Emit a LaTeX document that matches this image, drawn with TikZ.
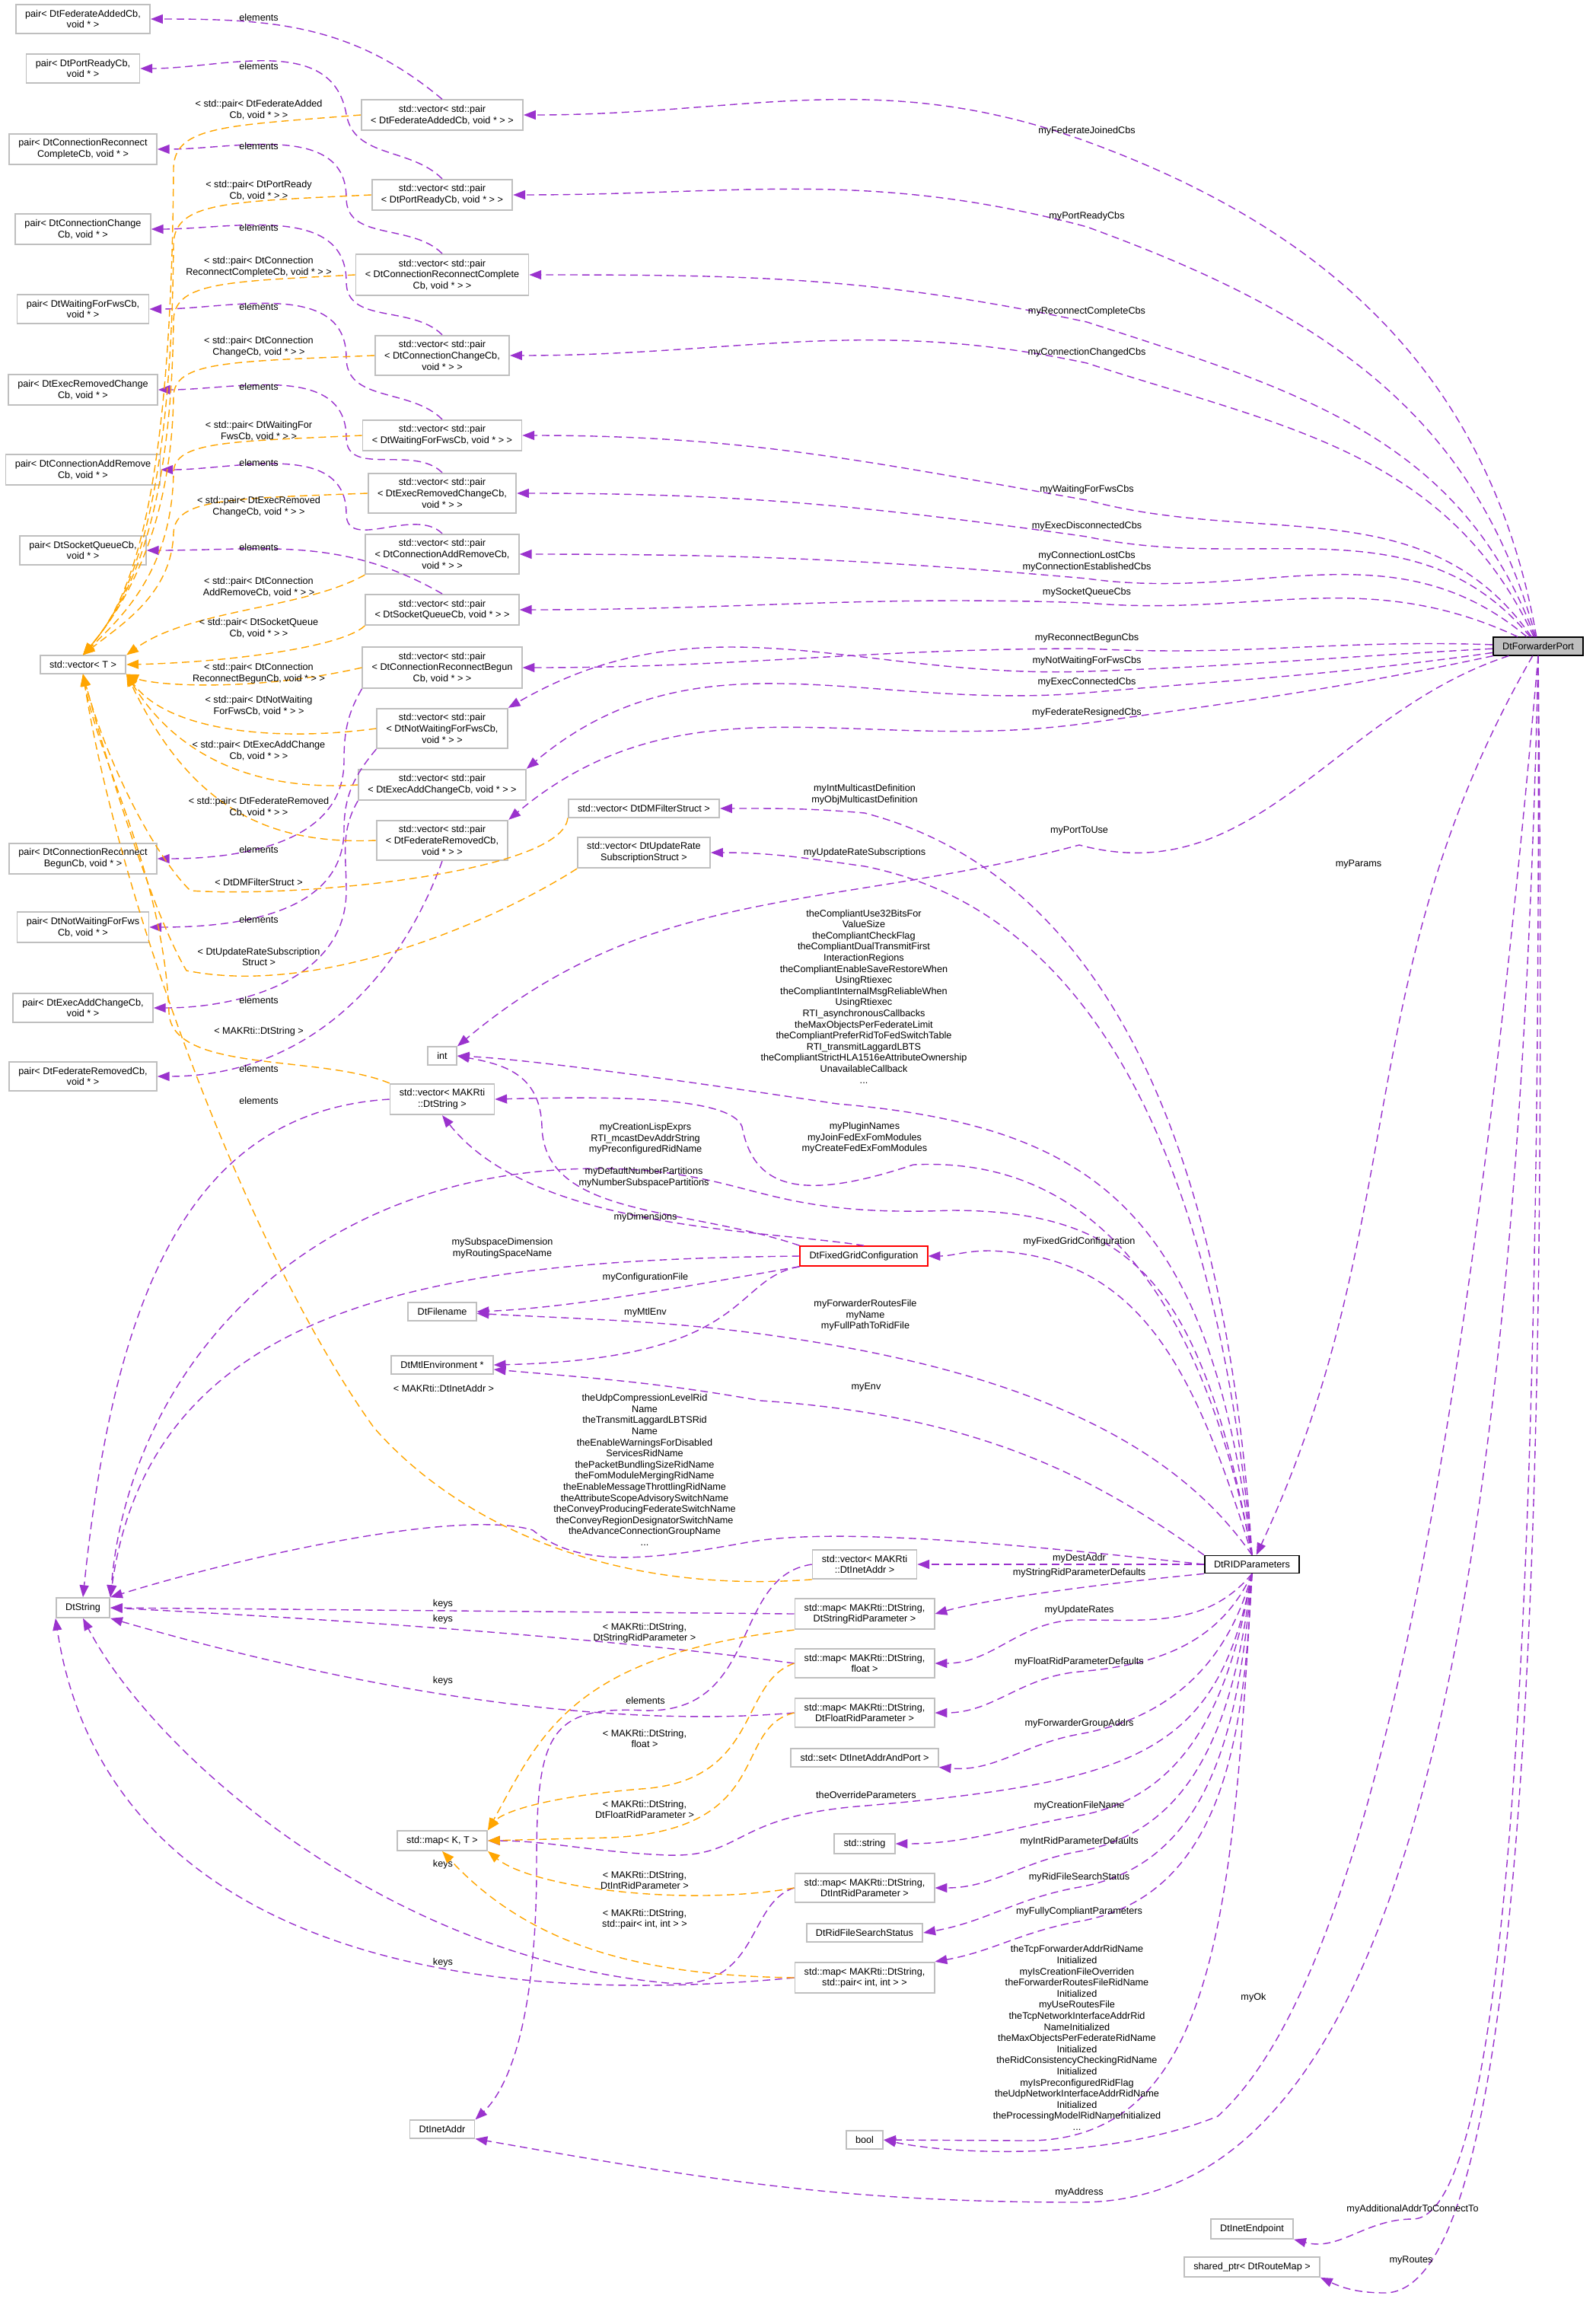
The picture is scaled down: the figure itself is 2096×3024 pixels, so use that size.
\documentclass[tikz,border=0pt]{standalone}
\usepackage{fontspec}
\setmainfont{Liberation Sans}
\usetikzlibrary{arrows.meta}
\definecolor{purp}{HTML}{9A32CD}
\definecolor{orng}{HTML}{FFA500}
\definecolor{bgray}{HTML}{BFBFBF}
\newcommand\lblf{\fontsize{3.6}{4.15}\selectfont}
\begin{document}
\begin{tikzpicture}[x=0.01cm,y=-0.01cm,
  box/.style={draw=bgray,fill=white,line width=0.5pt,inner xsep=3.5pt,inner ysep=2pt,align=center,font=\lblf},
  lbl/.style={font=\lblf,align=center,inner sep=0pt},
  pe/.style={draw=purp,line width=0.4pt,dash pattern=on 2.8pt off 1.7pt,-{Triangle[length=4.5pt,width=3.4pt]},fill=none},
  oe/.style={draw=orng,line width=0.4pt,dash pattern=on 2.8pt off 1.7pt,-{Triangle[length=4.5pt,width=3.4pt]},fill=none}]
\useasboundingbox (0,0) rectangle (2096,3024);
% left column
\node[box] (pFA) at (109,25) {pair< DtFederateAddedCb,\\ void * >};
\node[box] (pPR) at (109,90) {pair< DtPortReadyCb,\\ void * >};
\node[box] (pCRC) at (109,196) {pair< DtConnectionReconnect\\ CompleteCb, void * >};
\node[box] (pCC) at (109,301) {pair< DtConnectionChange\\ Cb, void * >};
\node[box] (pWF) at (109,406) {pair< DtWaitingForFwsCb,\\ void * >};
\node[box] (pERC) at (109,512) {pair< DtExecRemovedChange\\ Cb, void * >};
\node[box] (pCAR) at (109,617) {pair< DtConnectionAddRemove\\ Cb, void * >};
\node[box] (pSQ) at (109,723) {pair< DtSocketQueueCb,\\ void * >};
\node[box] (vecT) at (109,873) {std::vector< T >};
\node[box] (pCRB) at (109,1128) {pair< DtConnectionReconnect\\ BegunCb, void * >};
\node[box] (pNWF) at (109,1218) {pair< DtNotWaitingForFws\\ Cb, void * >};
\node[box] (pEAC) at (109,1324) {pair< DtExecAddChangeCb,\\ void * >};
\node[box] (pFR) at (109,1414) {pair< DtFederateRemovedCb,\\ void * >};
\node[box] (DtString) at (109,2112) {DtString};
% vectors
\node[box] (vFA) at (581,151) {std::vector< std::pair\\ < DtFederateAddedCb, void * > >};
\node[box] (vPR) at (581,256) {std::vector< std::pair\\ < DtPortReadyCb, void * > >};
\node[box] (vCRC) at (581,361) {std::vector< std::pair\\ < DtConnectionReconnectComplete\\ Cb, void * > >};
\node[box] (vCC) at (581,467) {std::vector< std::pair\\ < DtConnectionChangeCb,\\ void * > >};
\node[box] (vWF) at (581,572) {std::vector< std::pair\\ < DtWaitingForFwsCb, void * > >};
\node[box] (vERC) at (581,648) {std::vector< std::pair\\ < DtExecRemovedChangeCb,\\ void * > >};
\node[box] (vCAR) at (581,728) {std::vector< std::pair\\ < DtConnectionAddRemoveCb,\\ void * > >};
\node[box] (vSQ) at (581,801) {std::vector< std::pair\\ < DtSocketQueueCb, void * > >};
\node[box] (vCRB) at (581,877) {std::vector< std::pair\\ < DtConnectionReconnectBegun\\ Cb, void * > >};
\node[box] (vNWF) at (581,957) {std::vector< std::pair\\ < DtNotWaitingForFwsCb,\\ void * > >};
\node[box] (vEAC) at (581,1031) {std::vector< std::pair\\ < DtExecAddChangeCb, void * > >};
\node[box] (vFR) at (581,1104) {std::vector< std::pair\\ < DtFederateRemovedCb,\\ void * > >};
\node[box] (vDMF) at (846,1062) {std::vector< DtDMFilterStruct >};
\node[box] (vURS) at (846,1120) {std::vector< DtUpdateRate\\ SubscriptionStruct >};
\node[box] (int) at (581,1387) {int};
\node[box] (vStr) at (581,1444) {std::vector< MAKRti\\ ::DtString >};
\node[box,draw=red] (FG) at (1135,1650) {DtFixedGridConfiguration};
\node[box] (DtFilename) at (581,1723) {DtFilename};
\node[box] (DtMtl) at (581,1793) {DtMtlEnvironment *};
\node[box] (vIA) at (1136,2055) {std::vector< MAKRti\\ ::DtInetAddr >};
\node[box] (mStrRP) at (1136,2120) {std::map< MAKRti::DtString,\\ DtStringRidParameter >};
\node[box] (mFloat) at (1136,2185) {std::map< MAKRti::DtString,\\ float >};
\node[box] (mFloatRP) at (1136,2250) {std::map< MAKRti::DtString,\\ DtFloatRidParameter >};
\node[box] (setIAP) at (1136,2309) {std::set< DtInetAddrAndPort >};
\node[box] (mapKT) at (581,2418) {std::map< K, T >};
\node[box] (stdstring) at (1136,2422) {std::string};
\node[box] (mIntRP) at (1136,2480) {std::map< MAKRti::DtString,\\ DtIntRidParameter >};
\node[box] (rfss) at (1136,2539) {DtRidFileSearchStatus};
\node[box] (mPair) at (1136,2598) {std::map< MAKRti::DtString,\\ std::pair< int, int > >};
\node[box] (bool) at (1136,2811) {bool};
\node[box] (DtInetAddr) at (581,2797) {DtInetAddr};
\node[box,draw=black] (RID) at (1645,2055) {DtRIDParameters};
\node[box,draw=black,fill=bgray] (FP) at (2021,849) {DtForwarderPort};
\node[box] (DtInetEndpoint) at (1645,2928) {DtInetEndpoint};
\node[box] (sptr) at (1645,2978) {shared\_ptr< DtRouteMap >};

% ---- FP edges
\draw[pe] (FP) to[out=100,in=-20] (1428,186) to[out=160,in=0] (vFA);
\draw[pe] (FP) to[out=105,in=-20] (1428,298) to[out=165,in=0] (vPR);
\draw[pe] (FP) to[out=110,in=-18] (1428,423) to[out=168,in=0] (vCRC);
\draw[pe] (FP) to[out=115,in=-18] (1428,477) to[out=168,in=0] (vCC);
\draw[pe] (FP) to[out=125,in=-15] (1428,657) to[out=170,in=0] (vWF);
\draw[pe] (FP) to[out=130,in=-12] (1428,705) to[out=172,in=0] (vERC);
\draw[pe] (FP) to[out=140,in=-8] (1428,760) to[out=175,in=0] (vCAR);
\draw[pe] (FP) to[out=155,in=-5] (1428,792) to[out=178,in=0] (vSQ);
\draw[pe] (FP) to[out=178,in=-3] (1428,852) to[out=180,in=0] (vCRB);
\draw[pe] (FP) to[out=183,in=2] (1428,882) to[out=182,in=30] (vNWF.north east);
\draw[pe] (FP) to[out=188,in=5] (1428,910) to[out=185,in=40] (vEAC.north east);
\draw[pe] (FP) to[out=192,in=8] (1428,950) to[out=188,in=40] (vFR.north east);
\draw[pe] (FP) to[out=198,in=-15] (1418,1110) to[out=195,in=40] (int.north east);
\draw[pe] (FP) to[out=-120,in=65] (RID);
\draw[pe] (FP.south) .. controls (1990,2300) and (1800,2893) .. (1418,2893) to[out=180,in=-10] (DtInetAddr.south east);
\draw[pe] (FP.south) .. controls (1930,1900) and (1800,2600) .. (1600,2780) .. controls (1450,2840) and (1250,2830) .. (bool.east);
\draw[pe] (FP.south) .. controls (2025,2000) and (1990,2915) .. (1856,2915) to[out=180,in=-15] (DtInetEndpoint.south east);
\draw[pe] (FP.south) .. controls (2035,2100) and (2000,3010) .. (1820,3012) to[out=180,in=-25] (sptr.south east);
% FP labels
\node[lbl] (l1) at (1428,172) {myFederateJoinedCbs};
\node[lbl] (l2) at (1428,284) {myPortReadyCbs};
\node[lbl] (l3) at (1428,409) {myReconnectCompleteCbs};
\node[lbl] (l4) at (1428,463) {myConnectionChangedCbs};
\node[lbl] (l5) at (1428,643) {myWaitingForFwsCbs};
\node[lbl] (l6) at (1428,691) {myExecDisconnectedCbs};
\node[lbl] (l7) at (1428,738) {myConnectionLostCbs\\myConnectionEstablishedCbs};
\node[lbl] (l8) at (1428,778) {mySocketQueueCbs};
\node[lbl] (l9) at (1428,838) {myReconnectBegunCbs};
\node[lbl] (l10) at (1428,868) {myNotWaitingForFwsCbs};
\node[lbl] (l11) at (1428,896) {myExecConnectedCbs};
\node[lbl] (l12) at (1428,936) {myFederateResignedCbs};
\node[lbl] (l13) at (1418,1091) {myPortToUse};
\node[lbl] (l14) at (1785,1135) {myParams};
\node[lbl] (l15) at (1418,2880) {myAddress};
\node[lbl] (l16) at (1647,2624) {myOk};
\node[lbl] (l17) at (1856,2902) {myAdditionalAddrToConnectTo};
\node[lbl] (l18) at (1854,2969) {myRoutes};

% ---- RID edges
\draw[pe] (RID.north) .. controls (1610,1500) and (1450,1150) .. (1136,1068) to[out=175,in=0] (vDMF);
\draw[pe] (RID.north) .. controls (1600,1550) and (1450,1200) .. (1136,1138) to[out=172,in=0] (vURS);
\draw[pe] (RID.north) .. controls (1590,1600) and (1450,1480) .. (1100,1450) .. controls (900,1420) and (700,1392) .. (int.east);
\draw[pe] (RID.north) .. controls (1570,1650) and (1400,1520) .. (1200,1530) .. controls (1050,1580) and (990,1560) .. (975,1480) .. controls (960,1440) and (800,1440) .. (vStr.east);
\draw[pe] (RID.north) .. controls (1580,1700) and (1500,1590) .. (1250,1590) .. controls (1000,1600) and (990,1540) .. (800,1535) .. controls (400,1530) and (170,1800) .. (DtString.north east);
\draw[pe] (RID.north) .. controls (1570,1800) and (1500,1650) .. (1300,1643) to[out=180,in=0] (FG);
\draw[pe] (RID.north) .. controls (1580,1950) and (1450,1830) .. (1100,1768) to[out=170,in=-3] (DtFilename);
\draw[pe] (RID.north west) .. controls (1450,1950) and (1300,1860) .. (1000,1840) to[out=170,in=-5] (DtMtl);
\draw[pe] (RID.west) .. controls (1350,2030) and (1100,2005) .. (982,2026) .. controls (850,2050) and (760,2060) .. (700,2010) .. controls (600,1980) and (300,2050) .. (DtString.north east);
\draw[pe] (RID) -- (vIA);
\draw[pe] (RID.south west) .. controls (1450,2080) and (1300,2100) .. (mStrRP.east);
\draw[pe] (RID.south) to[out=-130,in=0] (1418,2128) to[out=180,in=0] (mFloat);
\draw[pe] (RID.south) to[out=-115,in=5] (1418,2196) to[out=185,in=0] (mFloatRP);
\draw[pe] (RID.south) to[out=-105,in=10] (1418,2278) to[out=190,in=-5] (setIAP.south east);
\draw[pe] (RID.south) .. controls (1600,2300) and (1500,2340) .. (1138,2372) .. controls (960,2385) and (980,2440) .. (877,2437) .. controls (780,2433) and (720,2418) .. (mapKT.east);
\draw[pe] (RID.south) to[out=-100,in=10] (1418,2385) to[out=190,in=0] (stdstring);
\draw[pe] (RID.south) to[out=-97,in=10] (1418,2432) to[out=190,in=0] (mIntRP);
\draw[pe] (RID.south) to[out=-95,in=10] (1418,2479) to[out=190,in=10] (rfss.east);
\draw[pe] (RID.south) to[out=-93,in=10] (1418,2524) to[out=190,in=10] (mPair.north east);
\draw[pe] (RID.south) .. controls (1620,2500) and (1600,2812) .. (1350,2812) -- (bool.east);
% RID labels
\node[lbl] (r1) at (1136,1044) {myIntMulticastDefinition\\myObjMulticastDefinition};
\node[lbl] (r2) at (1136,1120) {myUpdateRateSubscriptions};
\node[lbl] (r3) at (1135,1309) {theCompliantUse32BitsFor\\ValueSize\\theCompliantCheckFlag\\theCompliantDualTransmitFirst\\InteractionRegions\\theCompliantEnableSaveRestoreWhen\\UsingRtiexec\\theCompliantInternalMsgReliableWhen\\UsingRtiexec\\RTI\_asynchronousCallbacks\\theMaxObjectsPerFederateLimit\\theCompliantPreferRidToFedSwitchTable\\RTI\_transmitLaggardLBTS\\theCompliantStrictHLA1516eAttributeOwnership\\UnavailableCallback\\...};
\node[lbl] (r4) at (1136,1495) {myPluginNames\\myJoinFedExFomModules\\myCreateFedExFomModules};
\node[lbl] (r5) at (848,1496) {myCreationLispExprs\\RTI\_mcastDevAddrString\\myPreconfiguredRidName};
\node[lbl] (r6) at (1418,1631) {myFixedGridConfiguration};
\node[lbl] (r7) at (1137,1728) {myForwarderRoutesFile\\myName\\myFullPathToRidFile};
\node[lbl] (r8) at (1138,1822) {myEnv};
\node[lbl] (r9) at (847,1931) {theUdpCompressionLevelRid\\Name\\theTransmitLaggardLBTSRid\\Name\\theEnableWarningsForDisabled\\ServicesRidName\\thePacketBundlingSizeRidName\\theFomModuleMergingRidName\\theEnableMessageThrottlingRidName\\theAttributeScopeAdvisorySwitchName\\theConveyProducingFederateSwitchName\\theConveyRegionDesignatorSwitchName\\theAdvanceConnectionGroupName\\...};
\node[lbl] (r10) at (1418,2047) {myDestAddr};
\node[lbl] (r11) at (1418,2066) {myStringRidParameterDefaults};
\node[lbl] (r12) at (1418,2115) {myUpdateRates};
\node[lbl] (r13) at (1418,2183) {myFloatRidParameterDefaults};
\node[lbl] (r14) at (1418,2264) {myForwarderGroupAddrs};
\node[lbl] (r15) at (1138,2358) {theOverrideParameters};
\node[lbl] (r16) at (1418,2372) {myCreationFileName};
\node[lbl] (r17) at (1418,2419) {myIntRidParameterDefaults};
\node[lbl] (r18) at (1418,2466) {myRidFileSearchStatus};
\node[lbl] (r19) at (1418,2511) {myFullyCompliantParameters};
\node[lbl] (r20) at (1415,2677) {theTcpForwarderAddrRidName\\Initialized\\myIsCreationFileOverriden\\theForwarderRoutesFileRidName\\Initialized\\myUseRoutesFile\\theTcpNetworkInterfaceAddrRid\\NameInitialized\\theMaxObjectsPerFederateRidName\\Initialized\\theRidConsistencyCheckingRidName\\Initialized\\myIsPreconfiguredRidFlag\\theUdpNetworkInterfaceAddrRidName\\Initialized\\theProcessingModelRidNameInitialized\\...};

% ---- FG edges
\draw[pe] (FG.north west) .. controls (900,1585) and (715,1600) .. (712,1480) .. controls (710,1410) and (660,1398) .. (int.east);
\draw[pe] (FG.north) .. controls (1000,1615) and (700,1615) .. (vStr.south);
\draw[pe] (FG.west) .. controls (600,1655) and (200,1700) .. (DtString.north east);
\draw[pe] (FG.south west) .. controls (900,1690) and (750,1718) .. (DtFilename.east);
\draw[pe] (FG.south west) .. controls (960,1680) and (990,1785) .. (DtMtl.east);
\node[lbl] (g1) at (846,1547) {myDefaultNumberPartitions\\myNumberSubspacePartitions};
\node[lbl] (g2) at (848,1599) {myDimensions};
\node[lbl] (g3) at (660,1640) {mySubspaceDimension\\myRoutingSpaceName};
\node[lbl] (g4) at (848,1678) {myConfigurationFile};
\node[lbl] (g5) at (848,1724) {myMtlEnv};

% ---- elements edges
\draw[pe] (vFA.north) to[out=140,in=0] (pFA);
\draw[pe] (vPR.north) to[out=135,in=-80] (455,150) to[out=100,in=0] (pPR);
\draw[pe] (vCRC.north) to[out=135,in=-90] (455,260) to[out=90,in=0] (pCRC);
\draw[pe] (vCC.north) to[out=135,in=-90] (455,370) to[out=90,in=0] (pCC);
\draw[pe] (vWF.north) to[out=135,in=-90] (455,470) to[out=90,in=0] (pWF);
\draw[pe] (vERC.north) to[out=135,in=-90] (455,575) to[out=90,in=0] (pERC);
\draw[pe] (vCAR.north) to[out=135,in=-90] (455,675) to[out=90,in=0] (pCAR);
\draw[pe] (vSQ.north) to[out=150,in=0] (pSQ);
\draw[pe] (vCRB.south west) to[out=-120,in=90] (452,1000) to[out=-90,in=0] (pCRB);
\draw[pe] (vNWF.south west) to[out=-130,in=90] (452,1090) to[out=-90,in=0] (pNWF);
\draw[pe] (vEAC.south west) to[out=-120,in=90] (455,1170) to[out=-90,in=0] (pEAC);
\draw[pe] (vFR.south) to[out=-110,in=0] (pFR);
\draw[pe] (vStr.west) .. controls (250,1460) and (150,1700) .. (DtString.north);
\draw[pe] (vIA.west) .. controls (960,2070) and (1000,2250) .. (848,2247) .. controls (720,2240) and (705,2280) .. (705,2450) .. controls (705,2700) and (650,2760) .. (DtInetAddr.north east);
\foreach \y in {23,87,192,299,403,508,608,719,1116,1208,1314,1404,1446}{\node[lbl] at (340,\y) {elements};}
\node[lbl] (e14) at (848,2234) {elements};

% ---- keys edges
\draw[pe] (mStrRP.west) -- (DtString.east);
\draw[pe] (mFloat.west) .. controls (900,2165) and (600,2135) .. (DtString.east);
\draw[pe] (mFloatRP.west) .. controls (750,2275) and (400,2200) .. (DtString.south east);
\draw[pe] (mIntRP.west) .. controls (980,2500) and (1000,2615) .. (877,2605) .. controls (500,2570) and (200,2300) .. (DtString.south);
\draw[pe] (mPair.west) .. controls (500,2650) and (130,2500) .. (DtString.south west);
\foreach \y in {2107,2127,2208,2449,2578}{\node[lbl] at (582,\y) {keys};}

% ---- orange to mapKT
\draw[oe] (mStrRP.south west) .. controls (750,2175) and (710,2280) .. (mapKT.north east);
\draw[oe] (mFloat.west) .. controls (970,2210) and (1000,2340) .. (842,2350) .. controls (720,2360) and (660,2380) .. (mapKT.north east);
\draw[oe] (mFloatRP.west) .. controls (960,2270) and (1020,2405) .. (800,2414) -- (mapKT.east);
\draw[oe] (mIntRP.west) .. controls (900,2505) and (700,2480) .. (mapKT.south east);
\draw[oe] (mPair.west) .. controls (850,2595) and (700,2560) .. (mapKT.south);
\node[lbl] at (847,2145) {< MAKRti::DtString,\\DtStringRidParameter >};
\node[lbl] at (847,2284) {< MAKRti::DtString,\\float >};
\node[lbl] at (847,2377) {< MAKRti::DtString,\\DtFloatRidParameter >};
\node[lbl] at (847,2470) {< MAKRti::DtString,\\DtIntRidParameter >};
\node[lbl] at (847,2521) {< MAKRti::DtString,\\std::pair< int, int > >};

% ---- orange to vecT
\draw[oe] (vIA.south west) .. controls (800,2095) and (600,2000) .. (491,1875) .. controls (330,1650) and (160,1200) .. (vecT.south);
\draw[oe] (vStr.north west) .. controls (420,1385) and (225,1410) .. (222,1330) .. controls (215,1150) and (130,1000) .. (vecT.south);
\draw[oe] (vURS.south west) .. controls (650,1210) and (420,1310) .. (245,1275) .. controls (200,1200) and (140,1000) .. (vecT.south);
\draw[oe] (vDMF.south west) .. controls (740,1145) and (400,1180) .. (250,1170) .. controls (200,1120) and (140,1000) .. (vecT.south);
\draw[oe] (vFR.west) .. controls (350,1110) and (250,1060) .. (vecT.south east);
\draw[oe] (vEAC.west) .. controls (330,1040) and (230,990) .. (vecT.south east);
\draw[oe] (vNWF.west) .. controls (360,975) and (220,960) .. (vecT.south east);
\draw[oe] (vCRB.west) .. controls (330,910) and (200,900) .. (vecT.south east);
\draw[oe] (vSQ.south west) .. controls (450,850) and (300,870) .. (vecT.east);
\draw[oe] (vCAR.south west) .. controls (400,800) and (250,800) .. (vecT.north east);
\draw[oe] (vFA.west) .. controls (300,165) and (230,165) .. (228,220) .. controls (225,700) and (160,800) .. (vecT.north);
\draw[oe] (vPR.west) .. controls (300,265) and (230,265) .. (228,320) .. controls (225,700) and (160,800) .. (vecT.north);
\draw[oe] (vCRC.west) .. controls (300,370) and (230,370) .. (228,420) .. controls (225,700) and (160,800) .. (vecT.north);
\draw[oe] (vCC.west) .. controls (300,475) and (230,475) .. (228,520) .. controls (225,700) and (160,800) .. (vecT.north);
\draw[oe] (vWF.west) .. controls (300,580) and (230,580) .. (228,620) .. controls (226,750) and (160,810) .. (vecT.north);
\draw[oe] (vERC.west) .. controls (300,655) and (230,655) .. (228,700) .. controls (226,780) and (160,820) .. (vecT.north);
\node[lbl] at (340,144) {< std::pair< DtFederateAdded\\Cb, void * > >};
\node[lbl] at (340,250) {< std::pair< DtPortReady\\Cb, void * > >};
\node[lbl] at (340,351) {< std::pair< DtConnection\\ReconnectCompleteCb, void * > >};
\node[lbl] at (340,456) {< std::pair< DtConnection\\ChangeCb, void * > >};
\node[lbl] at (340,566) {< std::pair< DtWaitingFor\\FwsCb, void * > >};
\node[lbl] at (340,666) {< std::pair< DtExecRemoved\\ChangeCb, void * > >};
\node[lbl] at (340,771) {< std::pair< DtConnection\\AddRemoveCb, void * > >};
\node[lbl] at (340,825) {< std::pair< DtSocketQueue\\Cb, void * > >};
\node[lbl] at (340,885) {< std::pair< DtConnection\\ReconnectBegunCb, void * > >};
\node[lbl] at (340,927) {< std::pair< DtNotWaiting\\ForFwsCb, void * > >};
\node[lbl] at (340,986) {< std::pair< DtExecAddChange\\Cb, void * > >};
\node[lbl] at (340,1060) {< std::pair< DtFederateRemoved\\Cb, void * > >};
\node[lbl] at (340,1159) {< DtDMFilterStruct >};
\node[lbl] at (340,1257) {< DtUpdateRateSubscription\\Struct >};
\node[lbl] at (340,1355) {< MAKRti::DtString >};
\node[lbl] at (583,1824) {< MAKRti::DtInetAddr >};
\end{tikzpicture}
\end{document}
